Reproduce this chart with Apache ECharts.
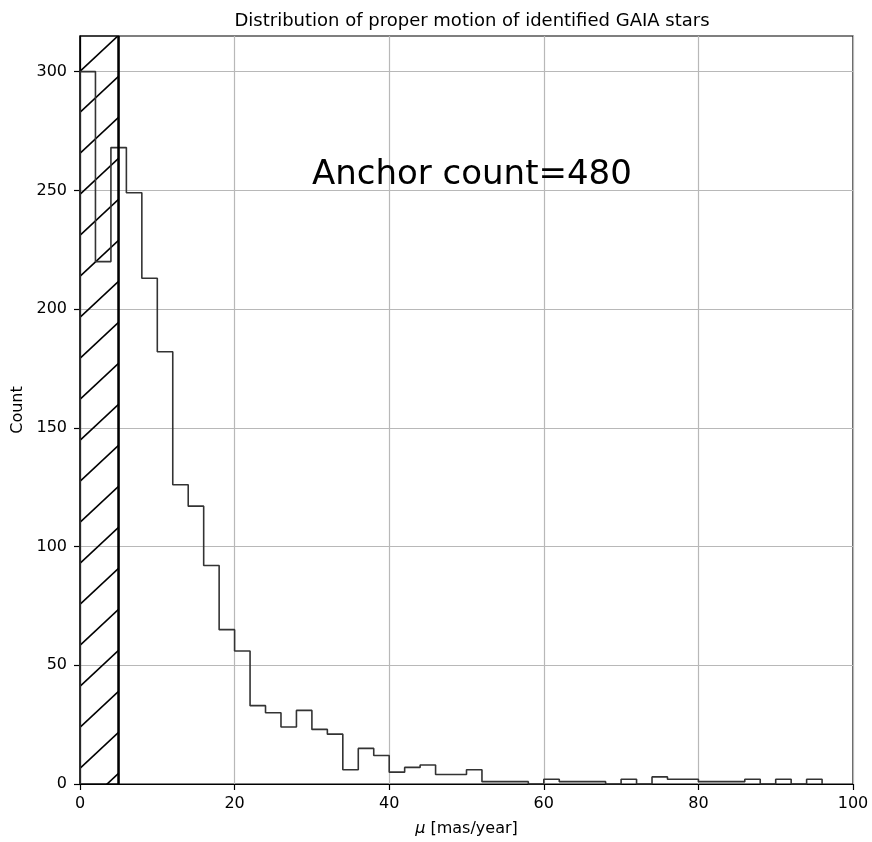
<!DOCTYPE html>
<html>
<head>
<meta charset="utf-8">
<title>Distribution of proper motion of identified GAIA stars</title>
<script src="https://cdn.jsdelivr.net/npm/echarts@6/dist/echarts.min.js"></script>
<style>
  html, body { margin: 0; padding: 0; background: #fff; }
  #chart { width: 872px; height: 842px; }
</style>
</head>
<body>
<div id="chart"></div>
<script>
// Histogram of proper motion (bins of 2 mas/year starting at 0)
const binStart = 0;
const binWidth = 2;
const counts = [
  300, 220, 268, 249, 213, 182, 126, 117, 92, 65,
  56, 33, 30, 24, 31, 23, 21, 6, 15, 12,
  5, 7, 8, 4, 4, 6, 1, 1, 1, 0,
  2, 1, 1, 1, 0, 2, 0, 3, 2, 2,
  1, 1, 1, 2, 0, 2, 0, 2
];

// Excluded low-motion region (hatched) and its limit line
const hatchFrom = 0;
const hatchTo = 5;

// Annotation
const annotationText = 'Anchor count=480';
const annotationPos = [30, 250];

// Axis settings
const xTicks = [0, 20, 40, 60, 80, 100];
const yTicks = [0, 50, 100, 150, 200, 250, 300];
const xMax = 100;
const yMax = 315;

// Step outline of the histogram, closed down to the baseline at both ends
const stepPoints = [];
stepPoints.push([binStart, 0]);
counts.forEach((c, i) => {
  const x0 = binStart + i * binWidth;
  const x1 = x0 + binWidth;
  stepPoints.push([x0, c]);
  stepPoints.push([x1, c]);
});
stepPoints.push([binStart + counts.length * binWidth, 0]);

// Diagonal '/' hatch tile
function makeHatch() {
  const w = 44, h = 41;
  const cv = document.createElement('canvas');
  cv.width = w; cv.height = h;
  const ctx = cv.getContext('2d');
  ctx.strokeStyle = '#000';
  ctx.lineWidth = 1.6;
  const s = h / w;
  const phase = 22.8;
  [phase - h, phase, phase + h].forEach(c => {
    ctx.beginPath();
    ctx.moveTo(-6, c + 6 * s);
    ctx.lineTo(w + 6, c - (w + 6) * s);
    ctx.stroke();
  });
  return cv;
}

const font = 'DejaVu Sans';
const chart = echarts.init(document.getElementById('chart'), null, { renderer: 'canvas' });

chart.setOption({
  animation: false,
  backgroundColor: '#fff',
  title: {
    text: 'Distribution of proper motion of identified GAIA stars',
    left: 467,
    top: 7,
    textAlign: 'center',
    textStyle: { fontFamily: font, fontSize: 18, fontWeight: 'normal', color: '#000' }
  },
  grid: {
    left: 80, right: 19, top: 36, bottom: 57,
    show: true, borderColor: '#000', borderWidth: 1.2, backgroundColor: 'transparent'
  },
  xAxis: {
    type: 'value',
    min: 0, max: xMax, interval: 20,
    name: '{i|μ} [mas/year]',
    nameLocation: 'middle',
    nameGap: 37,
    nameTextStyle: {
      fontFamily: font, fontSize: 16, color: '#000',
      rich: { i: { fontFamily: font, fontSize: 16, fontStyle: 'italic', color: '#000' } }
    },
    axisLine: { show: true, onZero: false, lineStyle: { color: '#000', width: 1.2 } },
    axisTick: { show: true, inside: false, length: 6, lineStyle: { color: '#000', width: 1.2 }, customValues: xTicks },
    axisLabel: { fontFamily: font, fontSize: 16, color: '#000', margin: 12, customValues: xTicks },
    splitLine: { show: true, lineStyle: { color: '#b8b8b8', width: 1.2 } }
  },
  yAxis: {
    type: 'value',
    min: 0, max: yMax, interval: 50,
    name: 'Count',
    nameLocation: 'middle',
    nameGap: 54,
    nameTextStyle: { fontFamily: font, fontSize: 16, color: '#000' },
    axisLine: { show: true, onZero: false, lineStyle: { color: '#000', width: 1.2 } },
    axisTick: { show: true, inside: false, length: 6, lineStyle: { color: '#000', width: 1.2 }, customValues: yTicks },
    axisLabel: { fontFamily: font, fontSize: 16, color: '#000', margin: 13, customValues: yTicks },
    splitLine: { show: true, lineStyle: { color: '#b8b8b8', width: 1.2 } }
  },
  series: [
    {
      type: 'line',
      data: stepPoints,
      symbol: 'none',
      lineStyle: { color: '#333', width: 1.6 },
      z: 3,
      markArea: {
        silent: true,
        itemStyle: {
          color: { image: makeHatch(), repeat: 'repeat' },
          borderColor: '#000',
          borderWidth: 1.2
        },
        data: [[{ xAxis: hatchFrom }, { xAxis: hatchTo }]]
      },
      markLine: {
        silent: true,
        symbol: 'none',
        label: { show: false },
        lineStyle: { color: '#000', width: 2.5, type: 'solid' },
        data: [{ xAxis: hatchTo }]
      }
    },
    {
      type: 'scatter',
      data: [annotationPos],
      symbolSize: 0,
      silent: true,
      itemStyle: { color: '#000' },
      label: {
        show: true,
        formatter: annotationText,
        position: [0, 0],
        offset: [0, 2],
        align: 'left',
        verticalAlign: 'bottom',
        fontFamily: font,
        fontSize: 34,
        color: '#000',
        opacity: 1
      }
    }
  ]
});
</script>
</body>
</html>
